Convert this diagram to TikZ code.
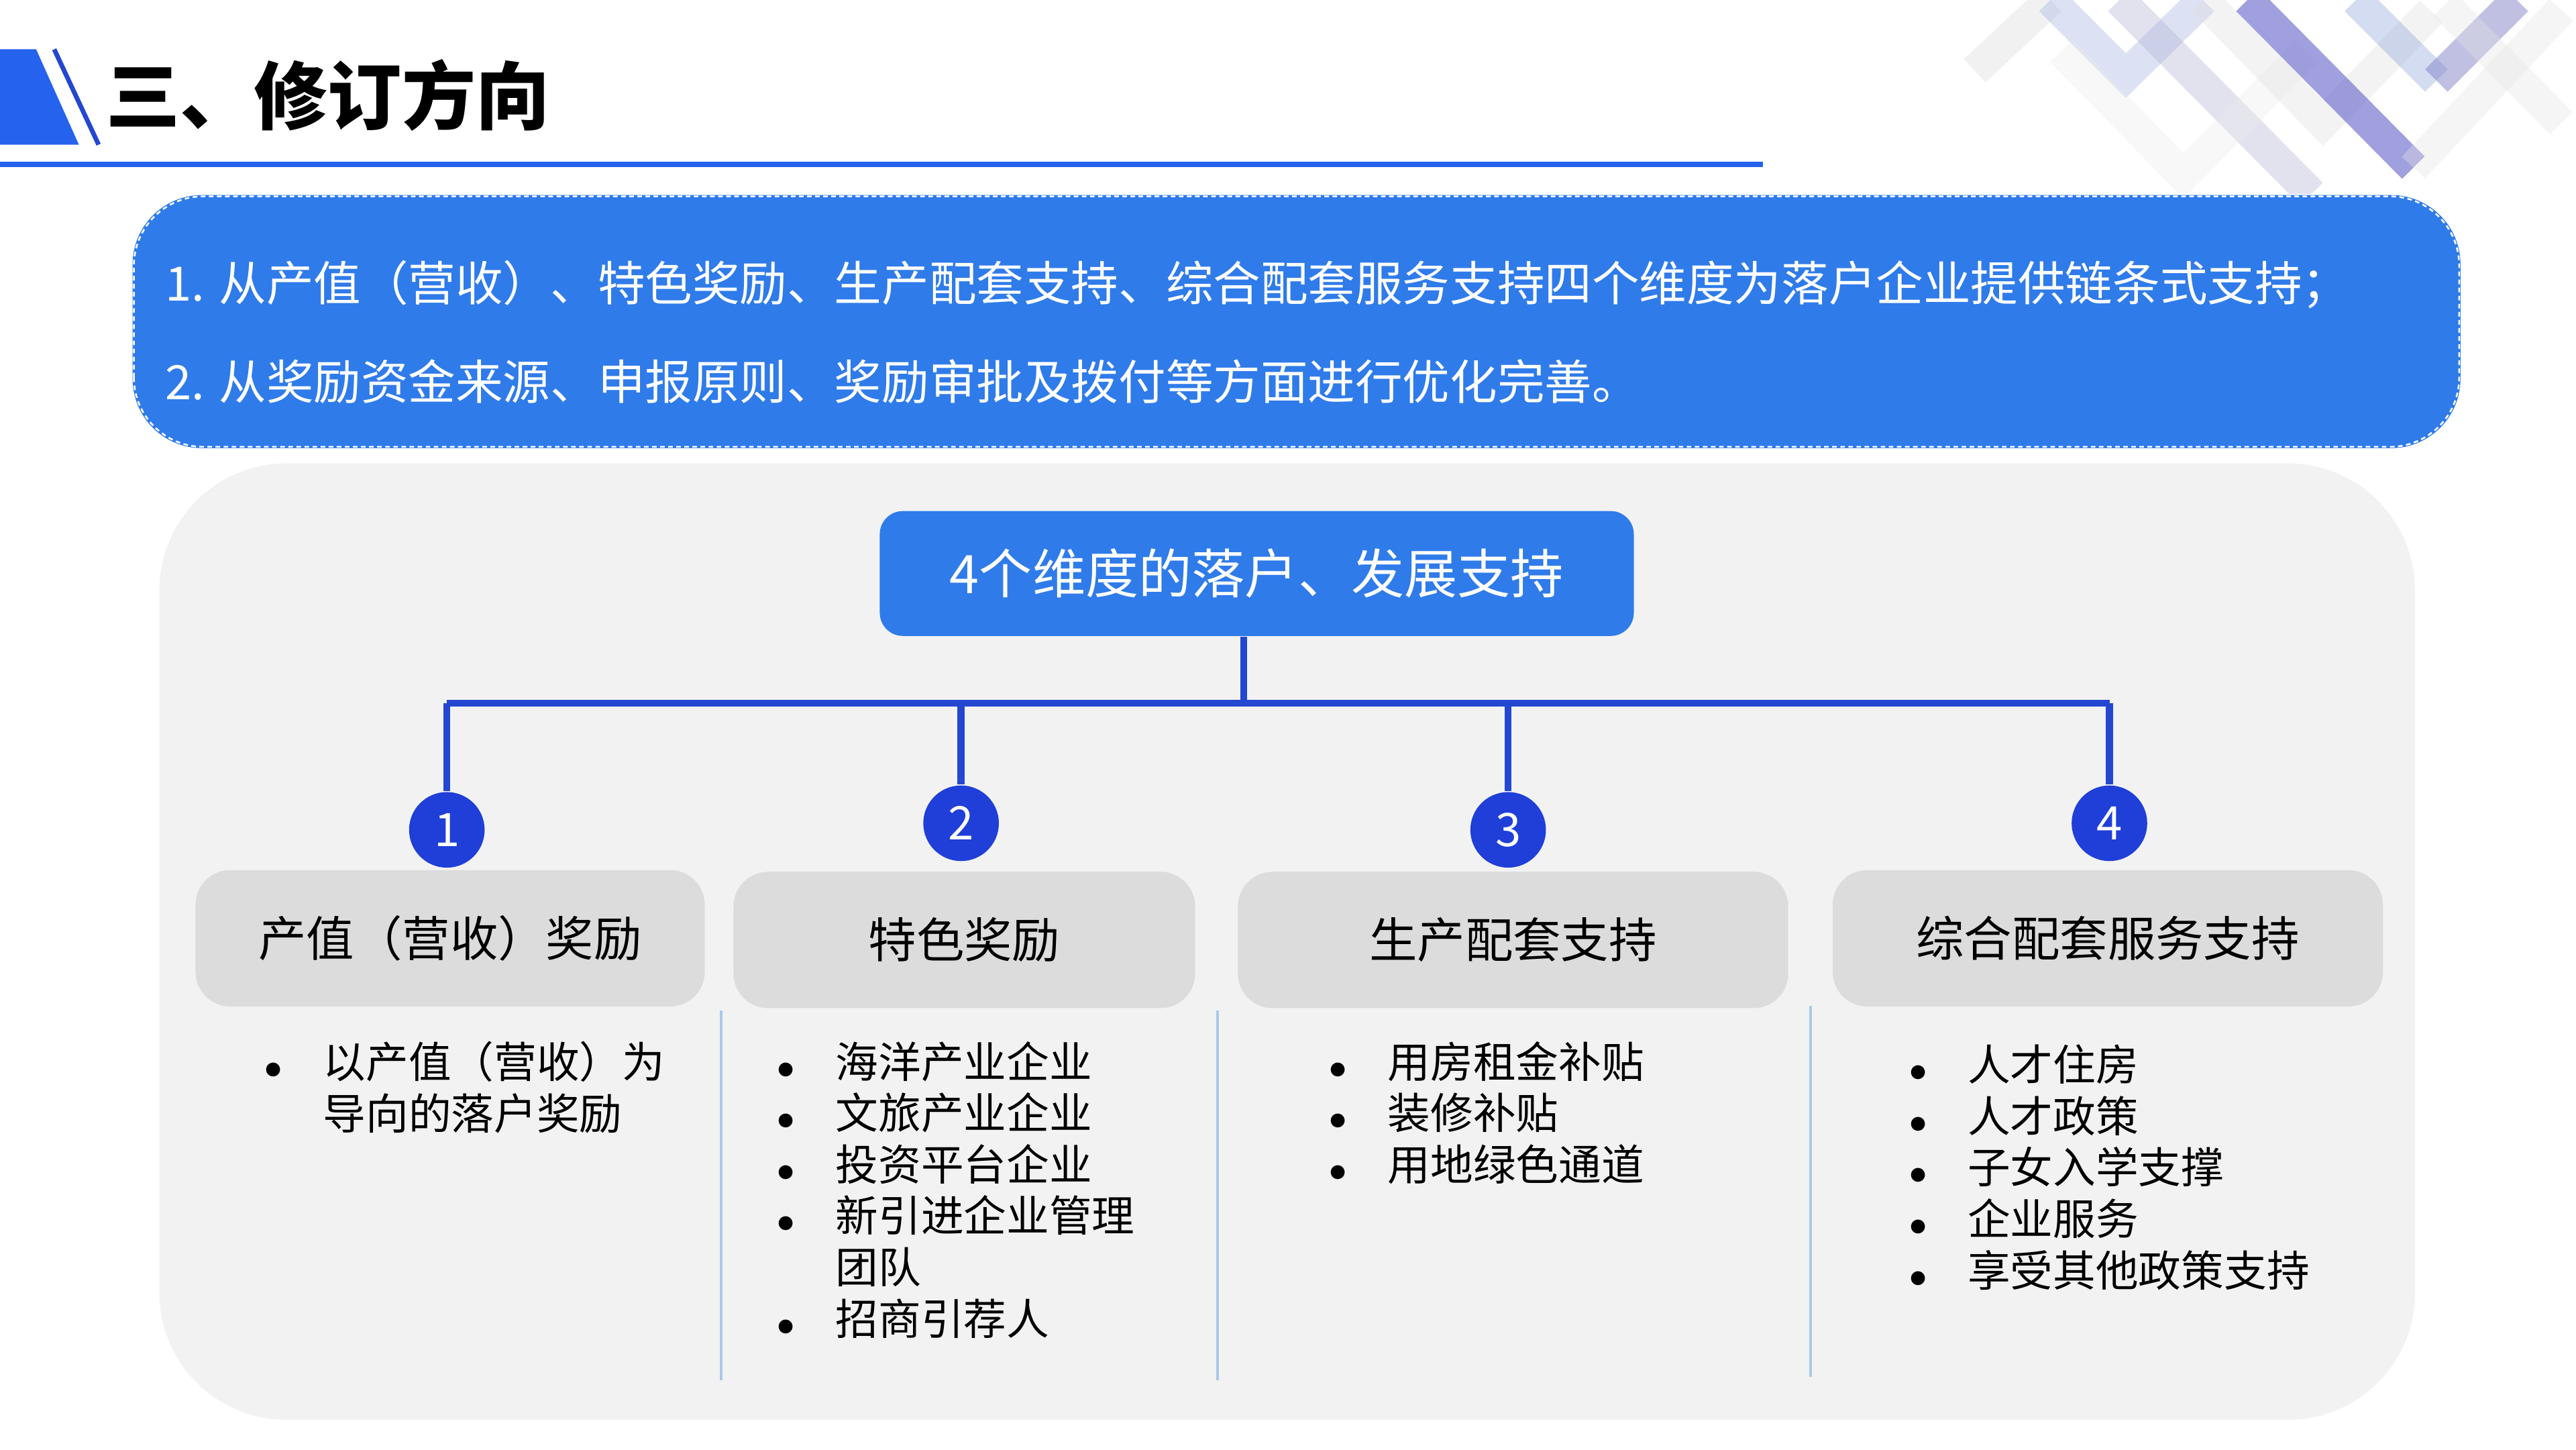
\documentclass[tikz,border=0pt]{standalone}
\usepackage{fontspec}
\setmainfont{Noto Sans CJK SC}
\definecolor{mainblue}{HTML}{2F7BEA}
\definecolor{linkblue}{HTML}{2347D0}
\definecolor{dotblue}{HTML}{1F3FD8}
\definecolor{panelgray}{HTML}{F2F2F2}
\definecolor{headgray}{HTML}{DCDCDC}
\definecolor{sepblue}{HTML}{A9C8E8}
\tikzset{headbox/.style={fill=headgray,rounded corners=6pt,inner sep=0pt}}
\tikzset{numdot/.style={circle,fill=dotblue,minimum size=4.6mm,inner sep=0pt,
  text=white,font=\fontsize{8}{8}\selectfont}}
\tikzset{bodytext/.style={align=left,anchor=north west,inner sep=0pt,
  font=\fontsize{7.4}{8.9}\selectfont}}
\tikzset{stripe/.style={line width=5.5pt,opacity=.35}}
\newcommand{\bul}{\makebox[3.6mm][l]{\scalebox{.8}{$\bullet$}}}
\newcommand{\ind}{\makebox[3.6mm][l]{}}

\begin{document}
\begin{tikzpicture}[x=0.1mm,y=-0.1mm]
  \useasboundingbox (0,0) rectangle (1568,882);
  \fill[white] (0,0) rectangle (1568,882);
  % decoration top right
  \begin{scope}
    \clip (1184,0) rectangle (1568,118);
    \draw[stripe,color=gray!30] (1248,0) -- (1202,43);
    \draw[stripe,color=cyan!40!blue!40] (1248,0) -- (1294,46) -- (1341,0);
    \draw[stripe,color=blue!30!gray!50] (1290,0) -- (1407,118);
    \draw[stripe,color=gray!15] (1255,31) -- (1329,107) -- (1404,31);
    \draw[stripe,color=gray!25] (1341,0) -- (1414,75) -- (1480,7);
    \draw[stripe,color=blue!50!gray!90,opacity=.55] (1368,0) -- (1469,102);
    \draw[stripe,color=gray!20] (1469,102) -- (1559,6);
    \draw[stripe,color=cyan!40!blue!50] (1434,0) -- (1483,49);
    \draw[stripe,color=blue!40!gray!70,opacity=.5] (1483,49) -- (1532,0);
    \draw[stripe,color=gray!20] (1488,3) -- (1559,75);
  \end{scope}
  % title
  \fill[mainblue!80!blue] (0,30) -- (22,30) -- (48,88) -- (0,88) -- cycle;
  \draw[linkblue,line width=0.8pt] (33,30) -- (60,88);
  \node[anchor=west,inner sep=0pt,font=\fontsize{12.8}{13}\selectfont\bfseries] (title) at (64,58) {三、修订方向};
  \draw[mainblue!80!blue,line width=1pt] (0,100) -- (1073,100);
  % summary box
  \node[fill=mainblue,rounded corners=12pt,minimum width=141.7mm,minimum height=15.4mm,anchor=north west] (summary) at (80,118) {};
  \draw[white,dash pattern=on 0.8pt off 0.6pt,line width=0.3pt,rounded corners=12pt] ([shift={(0.15mm,0.15mm)}]summary.south west) rectangle ([shift={(-0.15mm,-0.15mm)}]summary.north east);
  \node[anchor=west,inner sep=0pt,text=white,font=\fontsize{8.2}{9}\selectfont] (line1) at (100,173)
    {1. 从产值（营收）、特色奖励、生产配套支持、综合配套服务支持四个维度为落户企业提供链条式支持；};
  \node[anchor=west,inner sep=0pt,text=white,font=\fontsize{8.2}{9}\selectfont] (line2) at (100,232)
    {2. 从奖励资金来源、申报原则、奖励审批及拨付等方面进行优化完善。};
  % panel
  \fill[panelgray,rounded corners=22pt] (97,282) rectangle (1470,864);
  \node[fill=mainblue,rounded corners=4pt,minimum width=45.9mm,minimum height=7.6mm,text=white,
    font=\fontsize{9.2}{10}\selectfont] (root) at (765,349) {4个维度的落户、发展支持};
  % four branches
  \foreach \n/\x/\d in {1/272/505,2/585/501,3/918/505,4/1284/501}
  {
    \node[numdot] (dot\n) at (\x,\d) {\n};
    \coordinate (top\n) at (\x,428);
  }
  \node[headbox,minimum width=31.0mm,minimum height=8.3mm,font=\fontsize{8.3}{9}\selectfont] (head1) at (274,571) {产值（营收）奖励};
  \node[headbox,minimum width=28.1mm,minimum height=8.3mm,font=\fontsize{8.3}{9}\selectfont] (head2) at (587,572) {特色奖励};
  \node[headbox,minimum width=33.5mm,minimum height=8.3mm,font=\fontsize{8.3}{9}\selectfont] (head3) at (921,572) {生产配套支持};
  \node[headbox,minimum width=33.5mm,minimum height=8.3mm,font=\fontsize{8.3}{9}\selectfont] (head4) at (1283,571) {综合配套服务支持};
  \coordinate (mid) at (757,428);
  \draw[linkblue,line width=1.2pt] (root.south -| mid) -- (mid);
  \draw[linkblue,line width=1.2pt] (top1) -- (top4);
  \foreach \n in {1,...,4}
    \draw[linkblue,line width=1.2pt] (top\n) -- (dot\n.north);
  % separators
  \foreach \x/\a/\b in {439/615/840,741/615/840,1102/612/838}
    \draw[sepblue,line width=0.5pt] (\x,\a) -- (\x,\b);
  % lists
  \node[bodytext] (list1) at (160,633) {\bul 以产值（营收）为\\\ind 导向的落户奖励};
  \node[bodytext] (list2) at (472,633) {\bul 海洋产业企业\\\bul 文旅产业企业\\\bul 投资平台企业\\\bul 新引进企业管理\\\ind 团队\\\bul 招商引荐人};
  \node[bodytext] (list3) at (808,633) {\bul 用房租金补贴\\\bul 装修补贴\\\bul 用地绿色通道};
  \node[bodytext] (list4) at (1161,635) {\bul 人才住房\\\bul 人才政策\\\bul 子女入学支撑\\\bul 企业服务\\\bul 享受其他政策支持};
\end{tikzpicture}
\end{document}
